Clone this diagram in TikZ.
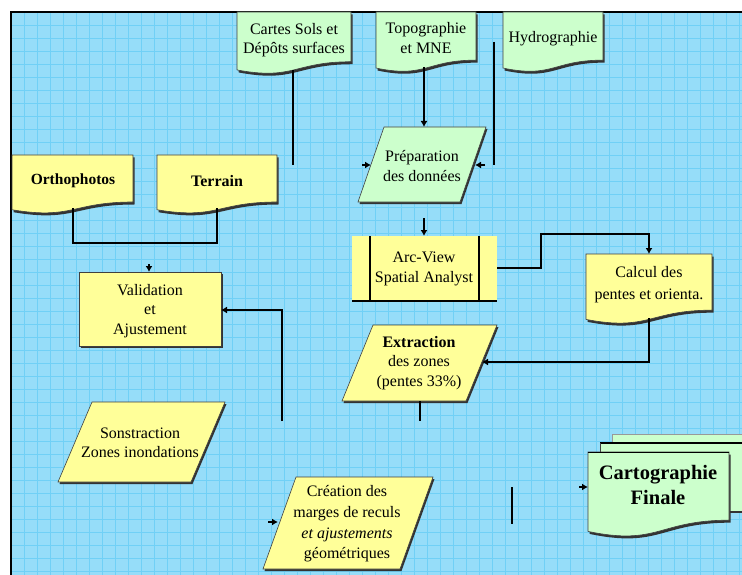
\documentclass[tikz,border=0pt]{standalone}
\usepackage{fontspec}
\setmainfont{Liberation Serif}
\usetikzlibrary{arrows.meta}
\definecolor{bgblue}{RGB}{150,221,249}
\definecolor{gridblue}{RGB}{112,208,246}
\definecolor{boxyellow}{RGB}{255,255,153}
\definecolor{boxgreen}{RGB}{204,255,204}
\newcommand\mydocpath[4]{(#1,#3) -- (#2,#3) -- (#2,{#3+0.802*#4}) .. controls ({(#1+#2)/2},{#3+0.802*#4}) and ({(#1+#2)/2},{#3+1.107*#4}) .. (#1,{#3+0.934*#4}) -- cycle}
\newcommand\myparapath[5]{(#1,#3) -- (#2,#3) -- ({#2-#5},#4) -- ({#1-#5},#4) -- cycle}
\begin{document}
\begin{tikzpicture}[x=1pt,y=-1pt,
  txt/.style={font=\fontsize{16}{19.5}\selectfont, align=center, inner sep=0pt},
  conn/.style={draw=black, line width=1.4pt},
  arr/.style={conn, -{Latex[length=6pt,width=7pt]}},
  outl/.style={draw=black!75, line width=0.6pt},
  shad/.style={fill=black!80}]
\useasboundingbox (0,0) rectangle (742,575);
\fill[white] (0,0) rectangle (742,575);
\begin{scope}
\clip (0,0) rectangle (742,575);
% background
\fill[bgblue] (11,12) rectangle (742,575);
\foreach \g in {0,...,56} \draw[gridblue, line width=0.6pt] ({11+13*\g},12) -- ({11+13*\g},575);
\foreach \g in {0,...,43} \draw[gridblue, line width=0.6pt] (11,{12+13*\g}) -- (742,{12+13*\g});
\draw[black, line width=1.2pt] (11,575) -- (11,12) -- (742,12);

% ---------- documents (top) ----------
\fill[shad, shift={(1.5,2.5)}] \mydocpath{237}{351}{12}{62};
\fill[boxgreen] \mydocpath{237}{351}{12}{62};
\draw[outl] \mydocpath{237}{351}{12}{62};
\fill[shad, shift={(1.5,2.5)}] \mydocpath{376}{476}{12}{60};
\fill[boxgreen] \mydocpath{376}{476}{12}{60};
\draw[outl] \mydocpath{376}{476}{12}{60};
\fill[shad, shift={(1.5,2.5)}] \mydocpath{503}{603}{12}{60};
\fill[boxgreen] \mydocpath{503}{603}{12}{60};
\draw[outl] \mydocpath{503}{603}{12}{60};
\node[txt] (cartes) at (294,40) {Cartes Sols et\\Dépôts surfaces};
\node[txt] (topo) at (426,38) {Topographie\\et MNE};
\node[txt] (hydro) at (553,39) {Hydrographie};

% ---------- Orthophotos / Terrain ----------
\fill[shad, shift={(1.5,2.5)}] \mydocpath{12}{133}{155}{58.6};
\fill[boxyellow] \mydocpath{12}{133}{155}{58.6};
\draw[outl] \mydocpath{12}{133}{155}{58.6};
\fill[shad, shift={(1.5,2.5)}] \mydocpath{157}{277}{155}{58.6};
\fill[boxyellow] \mydocpath{157}{277}{155}{58.6};
\draw[outl] \mydocpath{157}{277}{155}{58.6};
\node[txt, font=\fontsize{15.5}{19.5}\bfseries] (ortho) at (73,181) {Orthophotos};
\node[txt, font=\fontsize{16}{19.5}\bfseries] (terrain) at (217,181) {Terrain};

% ---------- Préparation ----------
\fill[shad, shift={(1.5,2)}] \myparapath{384}{486}{127}{202}{26};
\fill[boxgreen] \myparapath{384}{486}{127}{202}{26};
\draw[outl] \myparapath{384}{486}{127}{202}{26};
\node[txt] (prep) at (422,166) {Préparation\\des données};

% ---------- Arc-View ----------
\fill[boxyellow] (352,236) rectangle (497,301);
\draw[black, line width=1.6pt] (352,301) -- (497,301);
\draw[black, line width=1.4pt] (370,236) -- (370,301) (479,236) -- (479,301);
\node[txt] (arcview) at (424,269) {Arc-View\\Spatial Analyst};

% ---------- Calcul ----------
\fill[shad, shift={(1.5,2.5)}] \mydocpath{586}{712}{254}{70};
\fill[boxyellow] \mydocpath{586}{712}{254}{70};
\draw[outl] \mydocpath{586}{712}{254}{70};
\node[txt, font=\fontsize{16}{22}\selectfont] (calcul) at (649,285) {Calcul des\\pentes et orienta.};

% ---------- Extraction ----------
\fill[shad, shift={(1.5,2)}] \myparapath{373}{497}{325}{401}{31};
\fill[boxyellow] \myparapath{373}{497}{325}{401}{31};
\draw[outl] \myparapath{373}{497}{325}{401}{31};
\node[txt] (extract) at (419,363) {\textbf{Extraction}\\des zones\\(pentes 33\%)};

% ---------- Validation ----------
\fill[shad] (81,274) rectangle (223,348);
\fill[boxyellow] (79,272) rectangle (221,346);
\draw[outl] (79,272) rectangle (221,346);
\node[txt] (valid) at (150,311) {Validation\\et\\Ajustement};

% ---------- Sonstraction ----------
\fill[shad, shift={(1.5,2)}] \myparapath{92}{225}{402}{482}{34};
\fill[boxyellow] \myparapath{92}{225}{402}{482}{34};
\draw[outl] \myparapath{92}{225}{402}{482}{34};
\node[txt] (sonstr) at (140,443) {Sonstraction\\Zones inondations};

% ---------- Création ----------
\fill[shad, shift={(1.5,2)}] \myparapath{296}{433}{477}{569}{33};
\fill[boxyellow] \myparapath{296}{433}{477}{569}{33};
\draw[outl] \myparapath{296}{433}{477}{569}{33};
\node[txt, font=\fontsize{16}{20.7}\selectfont] (creation) at (347,524) {Création des\\marges de reculs\\\textit{et ajustements}\\géométriques};

% ---------- Cartographie finale (multi-document) ----------
\fill[boxgreen] (612,434) rectangle (760,495);
\draw[black!40, line width=0.6pt] (612,495) -- (612,434) -- (760,434);
\fill[boxgreen] (600,443) rectangle (760,512);
\draw[black!80, line width=1.2pt] (729,512) -- (742,512);
\draw[black, line width=1.6pt] (600,443) -- (742,443);
\draw[black!75, line width=0.6pt] (600,443) -- (600,452);
\fill[shad, shift={(1.5,2.5)}] \mydocpath{588}{729}{452}{85};
\fill[boxgreen] \mydocpath{588}{729}{452}{85};
\draw[outl] \mydocpath{588}{729}{452}{85};
\draw[black, line width=1pt] (588,452) -- (729,452);
\node[txt, font=\fontsize{20.5}{25}\bfseries] (carto) at (658,485) {Cartographie\\Finale};

% ---------- connector coordinates ----------
\coordinate (cartesB) at (293,70);
\coordinate (cartesE) at (293,165);
\coordinate (prepLtail) at (362,165);
\coordinate (prepL) at (371,165);
\coordinate (hydroS) at (494,42);
\coordinate (hydroE) at (494,165);
\coordinate (prepRtail) at (485,165);
\coordinate (prepR) at (475,165);
\coordinate (topoB) at (424,67);
\coordinate (prepT) at (424,127);
\coordinate (prepS) at (424,218);
\coordinate (arcT) at (424,236);
\coordinate (arcR) at (497,268);
\coordinate (bend1) at (541,268);
\coordinate (bend2) at (541,234);
\coordinate (bend3) at (649,234);
\coordinate (calcT) at (649,254);
\coordinate (calcB) at (649,318);
\coordinate (bend4) at (649,362);
\coordinate (extR) at (482,362);
\coordinate (extB) at (420,401);
\coordinate (extE) at (420,421);
\coordinate (orthoB) at (73,208);
\coordinate (bend5) at (73,243);
\coordinate (bend6) at (217,243);
\coordinate (terrB) at (217,208);
\coordinate (valTtail) at (149,264);
\coordinate (valT) at (149,272);
\coordinate (crS) at (282,421);
\coordinate (bend7) at (282,310);
\coordinate (valR) at (221,310);
\coordinate (creLtail) at (268,522);
\coordinate (creL) at (278,522);
\coordinate (freeA) at (512,487);
\coordinate (freeB) at (512,524);
\coordinate (cartoLtail) at (579,487);
\coordinate (cartoL) at (588,487);

% ---------- connectors ----------
\draw[conn] (cartesB) -- (cartesE);
\draw[arr] (prepLtail) -- (prepL);
\draw[conn] (hydroS) -- (hydroE);
\draw[arr] (prepRtail) -- (prepR);
\draw[arr] (topoB) -- (prepT);
\draw[arr] (prepS) -- (arcT);
\draw[arr] (arcR) -- (bend1) -- (bend2) -- (bend3) -- (calcT);
\draw[arr] (calcB) -- (bend4) -- (extR);
\draw[conn] (extB) -- (extE);
\draw[conn] (orthoB) -- (bend5) -- (bend6) -- (terrB);
\draw[arr] (valTtail) -- (valT);
\draw[arr] (crS) -- (bend7) -- (valR);
\draw[arr] (creLtail) -- (creL);
\draw[conn] (freeA) -- (freeB);
\draw[arr] (cartoLtail) -- (cartoL);
\end{scope}
\end{tikzpicture}
\end{document}
